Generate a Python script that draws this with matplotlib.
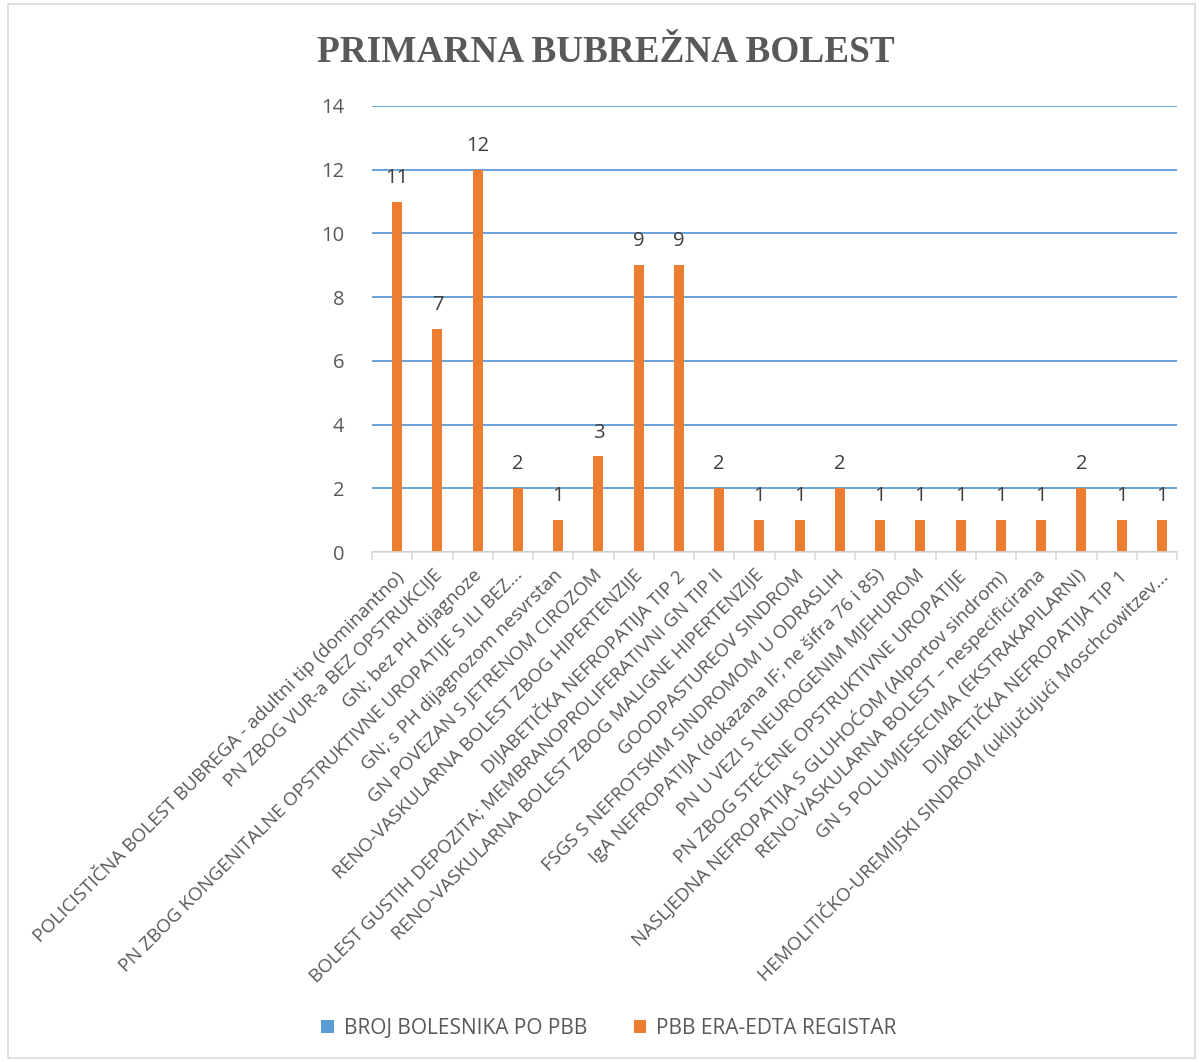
import matplotlib.pyplot as plt
import numpy as np
from matplotlib.patches import Rectangle

plt.rcParams['font.family'] = ['Open Sans', 'DejaVu Sans']

kategorije = [
    "POLICISTIČNA BOLEST BUBREGA - adultni tip (dominantno)",
    "PN ZBOG VUR-a BEZ OPSTRUKCIJE",
    "GN; bez PH dijagnoze",
    "PN ZBOG KONGENITALNE OPSTRUKTIVNE UROPATIJE S ILI BEZ...",
    "GN; s PH dijagnozom nesvrstan",
    "GN POVEZAN S JETRENOM CIROZOM",
    "RENO-VASKULARNA BOLEST ZBOG HIPERTENZIJE",
    "DIJABETIČKA NEFROPATIJA TIP 2",
    "BOLEST GUSTIH DEPOZITA; MEMBRANOPROLIFERATIVNI GN TIP II",
    "RENO-VASKULARNA BOLEST ZBOG MALIGNE HIPERTENZIJE",
    "GOODPASTUREOV SINDROM",
    "FSGS S NEFROTSKIM SINDROMOM U ODRASLIH",
    "IgA NEFROPATIJA (dokazana IF; ne šifra 76 i 85)",
    "PN U VEZI S NEUROGENIM MJEHUROM",
    "PN ZBOG STEČENE OPSTRUKTIVNE UROPATIJE",
    "NASLJEDNA NEFROPATIJA S GLUHOĆOM (Alportov sindrom)",
    "RENO-VASKULARNA BOLEST – nespecificirana",
    "GN S POLUMJESECIMA (EKSTRAKAPILARNI)",
    "DIJABETIČKA NEFROPATIJA TIP 1",
    "HEMOLITIČKO-UREMIJSKI SINDROM (uključujući Moschcowitzev...",
]
broj_bolesnika = [0] * 20
era_edta = [11, 7, 12, 2, 1, 3, 9, 9, 2, 1, 1, 2, 1, 1, 1, 1, 1, 2, 1, 1]

siva = '#595959'
plava = '#5B9BD5'
narancasta = '#ED7D31'

fig = plt.figure(figsize=(11.99, 10.62), dpi=100)
fig.patches.append(Rectangle((0.007, 0.004), 0.99, 0.992, transform=fig.transFigure,
                             fill=False, edgecolor='#D9D9D9', linewidth=1.2))
ax = fig.add_axes([372/1199, 1 - 552/1062, 805/1199, 446/1062])

x = np.arange(len(kategorije))
w = 0.25
ax.bar(x - w/2, broj_bolesnika, w, color=plava, label='BROJ BOLESNIKA PO PBB')
b = ax.bar(x + w/2, era_edta, w, color=narancasta, label='PBB ERA-EDTA REGISTAR')
ax.bar_label(b, padding=10, fontsize=14.5, color='#404040')

ax.set_ylim(0, 14)
ax.set_xlim(-0.5, len(kategorije) - 0.5)
ax.set_yticks(range(0, 15, 2))
ax.yaxis.grid(True, color=plava, linewidth=1.3)
ax.set_axisbelow(True)
for s in ['top', 'right', 'left']:
    ax.spines[s].set_visible(False)
ax.spines['bottom'].set_color('#D9D9D9')
ax.spines['bottom'].set_linewidth(1.2)
ax.tick_params(axis='y', length=0, labelsize=14.5, labelcolor=siva, pad=20)

ax.set_xticks(x)
ax.set_xticklabels(kategorije, rotation=45, ha='right', rotation_mode='anchor',
                   fontsize=13.6, color=siva)
ax.tick_params(axis='x', which='major', length=0, pad=10)
ax.set_xticks(np.arange(-0.5, len(kategorije)), minor=True)
ax.tick_params(axis='x', which='minor', length=6, color='#D9D9D9', width=1.2)

fig.text(0.505, 1 - 53/1062, 'PRIMARNA BUBREŽNA BOLEST', ha='center', va='center',
         fontsize=26.8, fontweight='bold', color=siva, family=['Liberation Serif', 'DejaVu Serif'])

fig.legend(loc='center', bbox_to_anchor=(0.508, 1 - 1028/1062), ncol=2, frameon=False,
           fontsize=15, labelcolor=siva, handlelength=0.6, handleheight=0.6,
           columnspacing=2.2, handletextpad=0.5)

fig.savefig('out.png', dpi=100)
